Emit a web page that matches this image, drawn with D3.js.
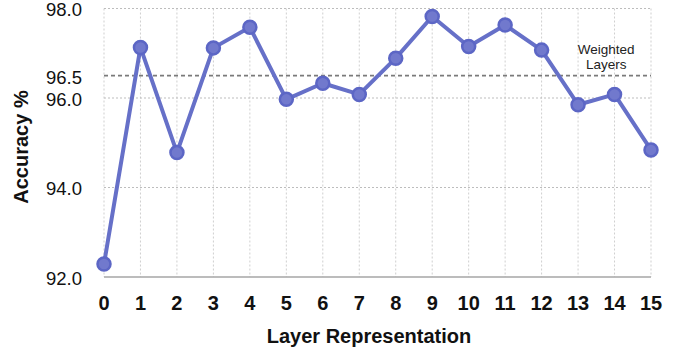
<!DOCTYPE html>
<html>
<head>
<meta charset="utf-8">
<script src="https://cdn.jsdelivr.net/npm/d3@7"></script>
<style>
  body { margin: 0; background: #fff; }
  text { font-family: "Liberation Sans", Arial, Helvetica, sans-serif; }
</style>
</head>
<body>
<svg id="chart" width="685" height="351"></svg>
<script>
// layer index and accuracy
let layers = [0, 1, 2, 3, 4, 5, 6, 7, 8, 9, 10, 11, 12, 13, 14, 15];
let accuracy = [92.29, 97.13, 94.78, 97.12, 97.58, 95.97, 96.33, 96.08, 96.89, 97.82, 97.15, 97.63, 97.07, 95.85, 96.08, 94.84];
let yTicks = [92.0, 94.0, 96.0, 96.5, 98.0];
let weighted = 96.5;
let weightedLabel = ['Weighted', 'Layers'];

let plot_left = 104, plot_right = 651, plot_top = 8.5, plot_bottom = 277;

let x = d3.scaleLinear().domain([0, 15]).range([plot_left, plot_right]);
let y = d3.scaleLinear().domain([92, 98]).range([plot_bottom, plot_top]);

let svg = d3.select('#chart');

// grid
svg.append('g')
    .selectAll('line')
    .data(layers)
    .join('line')
    .attr('x1', d => x(d)).attr('x2', d => x(d))
    .attr('y1', y(98)).attr('y2', y(92))
    .attr('stroke', '#cfcfcf')
    .attr('stroke-dasharray', '2,2')
    .attr('stroke-width', 1);

svg.append('g')
    .selectAll('line')
    .data([94, 96, 98])
    .join('line')
    .attr('x1', x(0)).attr('x2', x(15))
    .attr('y1', d => y(d)).attr('y2', d => y(d))
    .attr('stroke', '#bdbdbd')
    .attr('stroke-dasharray', '2,2')
    .attr('stroke-width', 1);

// bottom axis line
svg.append('line')
    .attr('x1', x(0)).attr('x2', x(15))
    .attr('y1', y(92)).attr('y2', y(92))
    .attr('stroke', '#a6a6a6')
    .attr('stroke-width', 1.5);

// weighted layers reference line
svg.append('line')
    .attr('x1', x(0)).attr('x2', x(15))
    .attr('y1', y(weighted)).attr('y2', y(weighted))
    .attr('stroke', '#7a7a7a')
    .attr('stroke-dasharray', '4,3')
    .attr('stroke-width', 1.6);

svg.append('text')
    .attr('x', x(13.77))
    .attr('y', 54)
    .attr('text-anchor', 'middle')
    .attr('font-size', '13.5px')
    .attr('fill', '#222')
    .selectAll('tspan')
    .data(weightedLabel)
    .join('tspan')
    .attr('x', x(13.77))
    .attr('dy', (d, i) => i == 0 ? 0 : 14.5)
    .text(d => d);

// y tick labels
svg.append('g')
    .selectAll('text')
    .data(yTicks)
    .join('text')
    .attr('x', 82)
    .attr('y', d => y(d) + 1.5)
    .attr('dy', '0.35em')
    .attr('text-anchor', 'end')
    .attr('font-size', '18.5px')
    .attr('fill', '#111')
    .text(d => d.toFixed(1));

// x tick labels
svg.append('g')
    .selectAll('text')
    .data(layers)
    .join('text')
    .attr('x', d => x(d))
    .attr('y', 310)
    .attr('text-anchor', 'middle')
    .attr('font-size', '20px')
    .attr('font-weight', 'bold')
    .attr('fill', '#111')
    .text(d => d);

// axis titles
svg.append('text')
    .attr('x', 369)
    .attr('y', 343)
    .attr('text-anchor', 'middle')
    .attr('font-size', '20px')
    .attr('font-weight', 'bold')
    .attr('fill', '#111')
    .text('Layer Representation');

svg.append('text')
    .attr('transform', 'translate(28,147) rotate(-90)')
    .attr('text-anchor', 'middle')
    .attr('font-size', '20px')
    .attr('font-weight', 'bold')
    .attr('fill', '#111')
    .text('Accuracy %');

// series
let pts = layers.map((d, i) => ({ layer: d, acc: accuracy[i] }));

let line = d3.line()
    .x(d => x(d.layer))
    .y(d => y(d.acc));

svg.append('path')
    .datum(pts)
    .attr('d', line)
    .attr('fill', 'none')
    .attr('stroke', '#6670c8')
    .attr('stroke-width', 4)
    .attr('stroke-linejoin', 'round');

svg.append('g')
    .selectAll('circle')
    .data(pts)
    .join('circle')
    .attr('cx', d => x(d.layer))
    .attr('cy', d => y(d.acc))
    .attr('r', 6.5)
    .attr('fill', '#7179cd')
    .attr('stroke', '#5c66c5')
    .attr('stroke-width', 2.5);
</script>
</body>
</html>
